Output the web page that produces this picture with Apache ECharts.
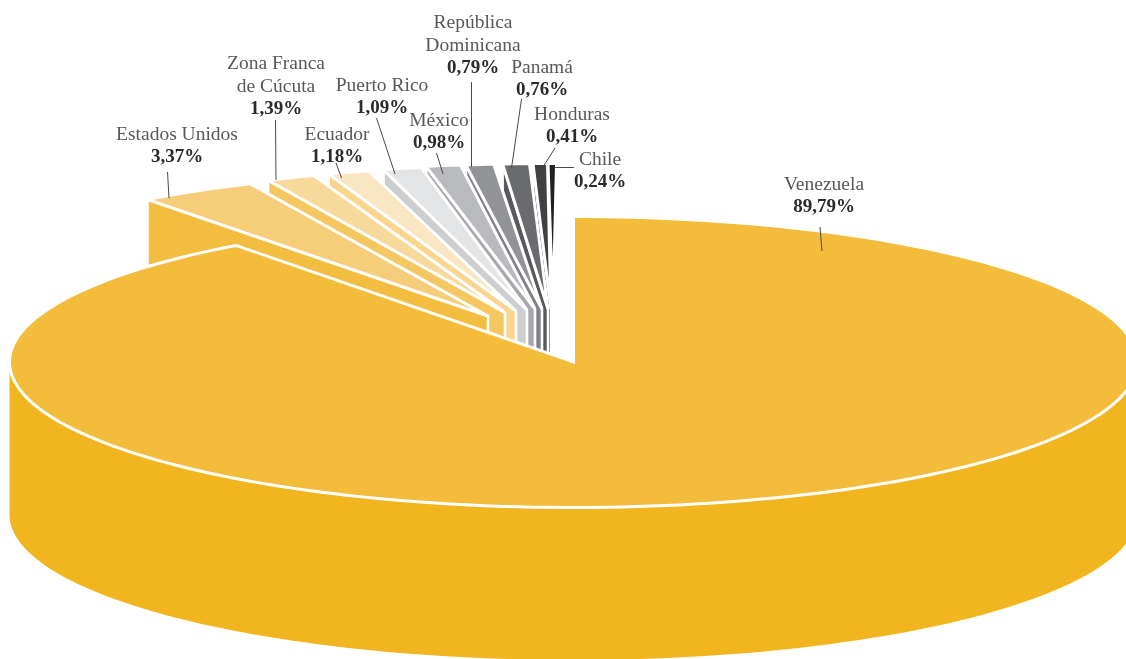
<!DOCTYPE html>
<html>
<head>
<meta charset="utf-8">
<style>
  html, body { margin: 0; padding: 0; background: #fff; }
  #chart_pie { width: 1126px; height: 659px; }
</style>
<script src="https://cdn.jsdelivr.net/npm/echarts@6/dist/echarts.min.js"></script>
</head>
<body>
<div id="chart_pie"></div>
<script>
// Datos
const categories = ['Venezuela', 'Estados Unidos', 'Zona Franca\nde Cúcuta', 'Ecuador', 'Puerto Rico', 'México', 'República\nDominicana', 'Panamá', 'Honduras', 'Chile'];
const shares = [89.79, 3.37, 1.39, 1.18, 1.09, 0.98, 0.79, 0.76, 0.41, 0.24];

// Colores
const topColors = ['#f3bc3a', '#f6cd78', '#f8d99c', '#fae6c2', '#e3e4e6', '#b9babd', '#929396', '#6a6b6e', '#404143', '#231f20'];
const wallColors = ['#f1b520', '#f3bd40', '#f5c761', '#f9d58e', '#ccced0', '#a6a8ab', '#808285', '#58595b', '#333335', '#231f20'];

// Geometria del pastel (elipse en perspectiva)
const cx = 573.5, cy = 362, rx = 564, ry = 145.5, depth = 152.5;
// Desplazamiento de cada rebanada: borde exterior [dx, dy] y vertice x
const outerOffset = [[0, 0], [-88.5, -46], [-70.5, -49.5], [-55.5, -51], [-40.5, -52], [-35.5, -53], [-30, -53], [-21, -53], [-17.5, -53], [-17, -53]];
const apexX = [573.5, 488, 505, 516, 527, 535, 542, 548, 551, 553];

// Etiquetas: centro de la primera linea y guia [x1, y1, x2, y2]
const labelPos = [[824, 184.5], [177, 134.5], [276, 63.5], [337, 134.5], [382, 85.5], [439, 120.5], [473, 22.5], [542, 67.5], [572, 114.5], [600, 159.5]];
const leaders = [
    [820, 227, 822, 251], [167.5, 172, 169, 198], [275.5, 120, 276, 180], [336, 163, 341.5, 178], [376.5, 118, 395, 174],
    [436.5, 153, 443, 174], [471.5, 82, 471.5, 167], [521.5, 99, 511.5, 168], [555, 148, 543, 167], [574, 167.5, 555, 167.5]
];
const fontFamily = '"Liberation Serif", serif';
const lineGap = 23;

// Angulos acumulados en grados, desde las 12 en sentido horario
const total = shares.reduce((a, b) => a + b, 0);
const starts = [];
shares.reduce((acc, v, i) => { starts[i] = acc / total * 360; return acc + v; }, 0);

function rimPoints(a0, a1, ox, oy) {
    const n = Math.max(2, Math.ceil((a1 - a0) / 1.5));
    const pts = [];
    for (let k = 0; k <= n; k++) {
        const t = (a0 + (a1 - a0) * k / n) * Math.PI / 180;
        pts.push([cx + rx * Math.sin(t) + ox, cy - ry * Math.cos(t) + oy]);
    }
    return pts;
}

function renderSlice(params, api) {
    const i = api.value(0);
    const a0 = starts[i];
    const a1 = a0 + shares[i] / total * 360;
    const off = outerOffset[i];
    const rim = rimPoints(a0, a1, off[0], off[1]);
    const apex = [apexX[i], cy + off[1]];
    const children = [];

    if (i === 0) {
        // Costado frontal del pastel grande
        const front = rimPoints(90, 270, 0, 0);
        const bottom = front.map(p => [p[0], p[1] + depth]).reverse();
        children.push({
            type: 'polygon',
            shape: { points: front.concat(bottom) },
            style: { fill: wallColors[0] }
        });
    } else {
        // Cara lateral visible de la rebanada
        const c = rim[0];
        children.push({
            type: 'polygon',
            shape: { points: [c, apex, [apex[0], apex[1] + depth], [c[0], c[1] + depth]] },
            style: { fill: wallColors[i], stroke: '#fff', lineWidth: 2.6 }
        });
    }
    children.push({
        type: 'polygon',
        shape: { points: [apex].concat(rim) },
        style: { fill: topColors[i], stroke: '#fff', lineWidth: 3 }
    });
    return { type: 'group', children: children };
}

function renderLabel(params, api) {
    const i = api.value(0);
    const p = labelPos[i];
    const l = leaders[i];
    const lines = categories[i].split('\n');
    const children = [{
        type: 'line',
        shape: { x1: l[0], y1: l[1], x2: l[2], y2: l[3] },
        style: { stroke: '#4a4a4c', lineWidth: 1 }
    }];
    lines.forEach((txt, k) => {
        children.push({
            type: 'text',
            style: { text: txt, x: p[0], y: p[1] + k * lineGap, align: 'center', verticalAlign: 'middle', fontFamily: fontFamily, fontSize: 19.5, fill: '#58585a' }
        });
    });
    children.push({
        type: 'text',
        style: {
            text: shares[i].toFixed(2).replace('.', ',') + '%',
            x: p[0], y: p[1] + lines.length * lineGap, align: 'center', verticalAlign: 'middle',
            fontFamily: fontFamily, fontSize: 19, fontWeight: 'bold', fill: '#2b2b2d'
        }
    });
    return { type: 'group', children: children };
}

// Se pinta de atras hacia adelante: Chile primero, Venezuela al final
const drawOrder = shares.map((v, i) => i).reverse().map(i => [i, shares[i]]);

const chart = echarts.init(document.getElementById('chart_pie'), null, { renderer: 'canvas' });
chart.setOption({
    animation: false,
    backgroundColor: '#fff',
    series: [
        { type: 'custom', coordinateSystem: 'none', renderItem: renderSlice, data: drawOrder, silent: true, z: 1 },
        { type: 'custom', coordinateSystem: 'none', renderItem: renderLabel, data: drawOrder, silent: true, z: 2 }
    ]
});
</script>
</body>
</html>
